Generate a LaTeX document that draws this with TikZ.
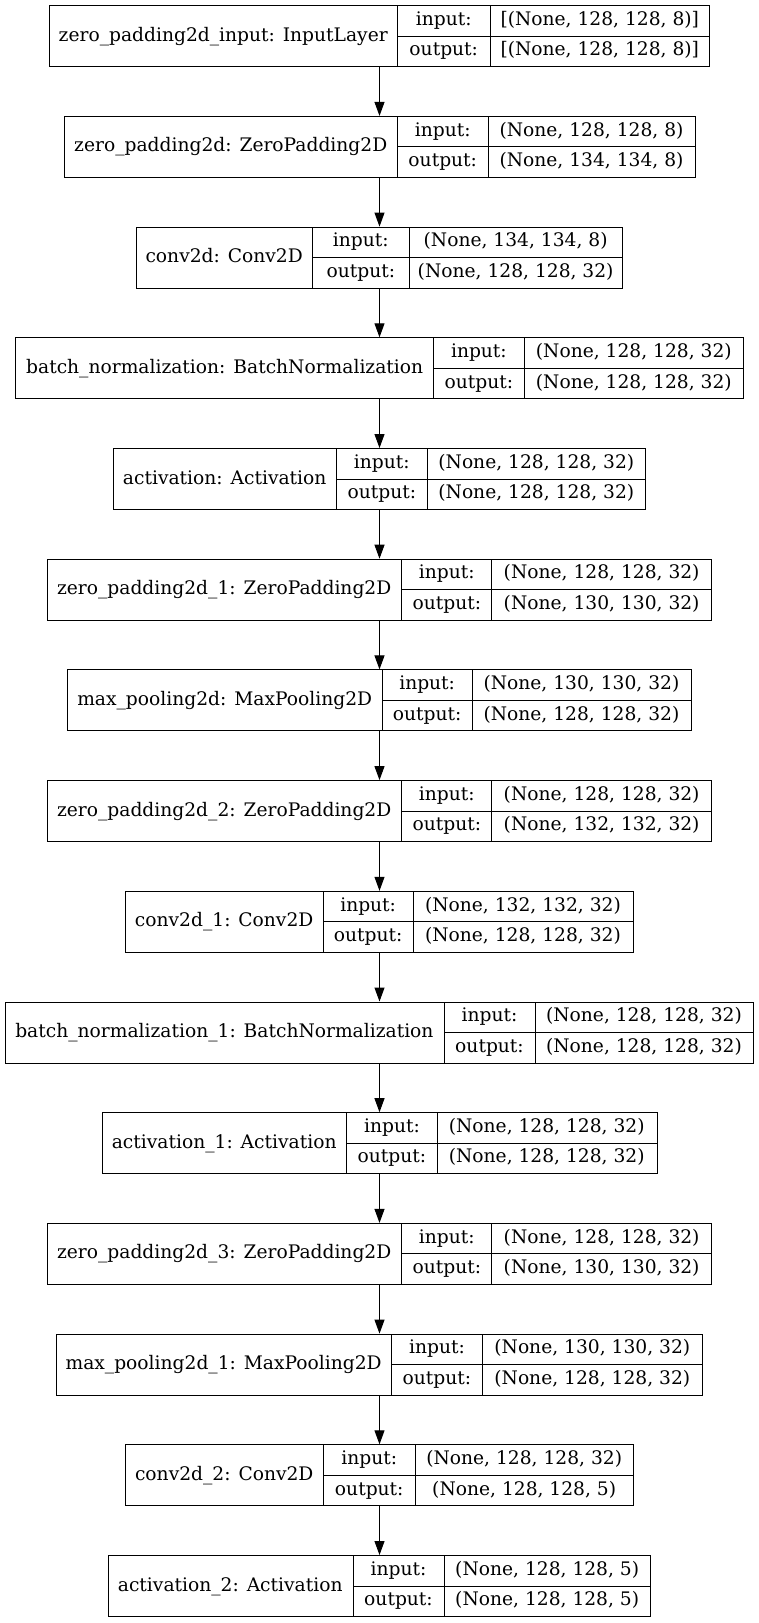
\documentclass[tikz,border=0pt]{standalone}
\usepackage{fontspec}
\setmainfont{DejaVu Serif}
\usetikzlibrary{arrows.meta}
\tikzset{
  box/.style={draw=black, line width=0.75pt, inner sep=0pt, minimum height=45.75pt},
  cell/.style={draw=black, line width=0.75pt},
  lab/.style={inner sep=0pt, anchor=base, font=\fontsize{14}{16}\selectfont},
  arr/.style={draw=black, line width=0.75pt, -{Triangle[length=10.5pt,width=7.5pt]}}
}
\newcommand\lay[8]{%
  \pgfmathsetmacro\lyT{5.7+110.7*(#1-1)}%
  \pgfmathsetmacro\lyB{\lyT+61}%
  \pgfmathsetmacro\lyM{\lyT+30.5}%
  \node[box, minimum width={(#5-#2)*0.75pt}] (b#1) at (379.5,\lyM) {};
  \draw[cell] (#3,\lyT) -- (#3,\lyB) (#4,\lyT) -- (#4,\lyB) (#3,\lyM) -- (#5,\lyM);
  \node[lab] (n#1) at ({(#2+#3)/2},\lyM+5) {#6};
  \node[lab] (i#1) at ({(#3+#4)/2},\lyT+15.25+4.5) {input:};
  \node[lab] (o#1) at ({(#3+#4)/2},\lyM+15.25+4.5) {output:};
  \node[lab] (vi#1) at ({(#4+#5)/2},\lyT+15.25+4.5) {#7};
  \node[lab] (vo#1) at ({(#4+#5)/2},\lyM+15.25+4.5) {#8};
}
\begin{document}
\begin{tikzpicture}[x=0.75pt,y=-0.75pt]
\useasboundingbox[fill=white] (0,0) rectangle (759,1623);
\lay{1}{49}{397.5}{490}{709.5}{zero\_padding2d\_input: InputLayer}{[(None, 128, 128, 8)]}{[(None, 128, 128, 8)]}
\lay{2}{64}{397.5}{488}{695}{zero\_padding2d: ZeroPadding2D}{(None, 128, 128, 8)}{(None, 134, 134, 8)}
\lay{3}{135.6}{312.7}{409}{622.3}{conv2d: Conv2D}{(None, 134, 134, 8)}{(None, 128, 128, 32)}
\lay{4}{16}{433.4}{524.4}{743.3}{batch\_normalization: BatchNormalization}{(None, 128, 128, 32)}{(None, 128, 128, 32)}
\lay{5}{112.8}{336.6}{427.1}{645.5}{activation: Activation}{(None, 128, 128, 32)}{(None, 128, 128, 32)}
\lay{6}{46.6}{401.8}{491.9}{711.4}{zero\_padding2d\_1: ZeroPadding2D}{(None, 128, 128, 32)}{(None, 130, 130, 32)}
\lay{7}{67.3}{382.1}{472.2}{690.7}{max\_pooling2d: MaxPooling2D}{(None, 130, 130, 32)}{(None, 128, 128, 32)}
\lay{8}{46.6}{401.8}{491.9}{711.4}{zero\_padding2d\_2: ZeroPadding2D}{(None, 128, 128, 32)}{(None, 132, 132, 32)}
\lay{9}{125.3}{323.1}{413.2}{632.7}{conv2d\_1: Conv2D}{(None, 132, 132, 32)}{(None, 128, 128, 32)}
\lay{10}{4.8}{444}{535}{753}{batch\_normalization\_1: BatchNormalization}{(None, 128, 128, 32)}{(None, 128, 128, 32)}
\lay{11}{101.5}{346.9}{437}{656.5}{activation\_1: Activation}{(None, 128, 128, 32)}{(None, 128, 128, 32)}
\lay{12}{46.6}{401.8}{491.9}{711.4}{zero\_padding2d\_3: ZeroPadding2D}{(None, 128, 128, 32)}{(None, 130, 130, 32)}
\lay{13}{55.9}{391.4}{482.5}{702.1}{max\_pooling2d\_1: MaxPooling2D}{(None, 130, 130, 32)}{(None, 128, 128, 32)}
\lay{14}{125}{323.5}{415}{633.4}{conv2d\_2: Conv2D}{(None, 128, 128, 32)}{(None, 128, 128, 5)}
\lay{15}{107.5}{353}{444}{650.4}{activation\_2: Activation}{(None, 128, 128, 5)}{(None, 128, 128, 5)}
\foreach \a [evaluate=\a as \b using int(\a+1)] in {1,...,14} {
  \draw[arr] (b\a.south) -- (b\b.north);
}
\end{tikzpicture}
\end{document}
